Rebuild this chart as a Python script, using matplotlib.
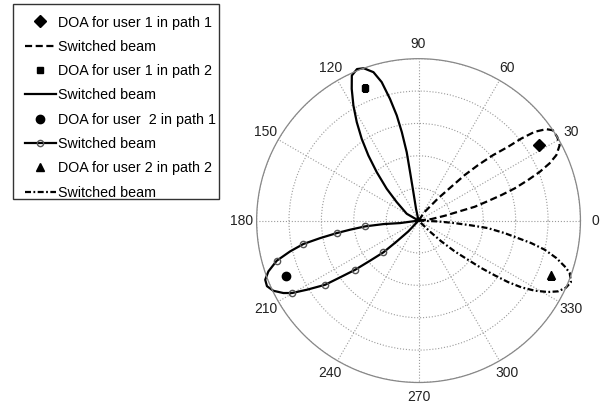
import matplotlib
matplotlib.use('Agg')
import matplotlib.pyplot as plt
import numpy as np
from matplotlib.lines import Line2D
from matplotlib.patches import Rectangle

plt.rcParams['font.family'] = ['Liberation Sans', 'DejaVu Sans']

# <----------------[DATA]----------------> #

# beam 1, dashed, user 1 path 1 (origin -> upper edge -> tip -> lower edge -> origin)
beam1_deg = [58, 54.8, 48.7, 45.9, 44.6, 43.0, 41.3, 39.5, 38.6, 37.4, 35.6, 33.9, 31.0,
             28.1, 25.4, 23.6, 21.9, 20.3, 18.5, 17.1, 15.7, 13.8, 12.6, 10.4, 6.7, 5]
beam1_gain = [0, 0.066, 0.182, 0.291, 0.40, 0.502, 0.612, 0.716, 0.812, 0.903, 0.970, 1.0, 1.0,
              0.988, 0.942, 0.883, 0.807, 0.72, 0.626, 0.535, 0.446, 0.357, 0.25, 0.164, 0.08, 0]

# beam 2, solid, user 1 path 2
beam2_deg = [102, 102, 100.3, 99.9, 99.8, 100.7, 101.7, 103.2, 104.9, 106.9, 109.8, 112.1,
             114.7, 116.9, 119.5, 122.1, 124.8, 127.6, 130.8, 135, 139.7, 150, 150]
beam2_gain = [0, 0.074, 0.179, 0.304, 0.429, 0.556, 0.663, 0.772, 0.885, 0.958, 1.0, 1.01,
              0.986, 0.912, 0.817, 0.718, 0.615, 0.508, 0.395, 0.278, 0.177, 0.084, 0]

# beam 3, solid with open circles, user 2 path 1
beam3_deg = [188, 187.7, 185.7, 186.2, 187.6, 188.7, 190.1, 191.5, 193.5, 195.8, 198.7, 201.1,
             203.4, 205.8, 208.2, 209.8, 211.8, 214.5, 215.9, 217.8, 219.6, 222.1, 223.7, 226.6, 228]
beam3_gain = [0, 0.115, 0.218, 0.332, 0.427, 0.511, 0.617, 0.726, 0.816, 0.91, 0.979, 1.015,
              1.02, 0.996, 0.947, 0.90, 0.81, 0.70, 0.598, 0.496, 0.389, 0.293, 0.186, 0.092, 0]
beam3_marks = [3, 5, 7, 9, 15, 17, 19, 21]

# beam 4, dash-dot, user 2 path 2
beam4_deg = [358, 357.5, 356, 354.8, 353.8, 351.7, 350, 348.7, 347, 344.8, 342.6, 340.9, 338,
             335.5, 333.1, 331.1, 328.9, 327, 325.5, 324.3, 322.9, 321.6, 319.6, 317.6, 316, 315]
beam4_gain = [0, 0.12, 0.224, 0.327, 0.431, 0.538, 0.624, 0.71, 0.80, 0.882, 0.946, 0.988, 1.015,
              1.0, 0.966, 0.913, 0.838, 0.757, 0.67, 0.58, 0.486, 0.39, 0.293, 0.19, 0.096, 0]

# directions of arrival
doa_deg = [32.1, 112.0, 202.6, 337.6]
doa_gain = [0.876, 0.882, 0.886, 0.887]
doa_marker = ['D', 's', 'o', '^']
doa_size = [6.5, 5, 6, 6]

theta_ticks = list(range(0, 360, 30))
labels = ['DOA for user 1 in path 1', 'Switched beam',
          'DOA for user 1 in path 2', 'Switched beam',
          'DOA for user  2 in path 1', 'Switched beam',
          'DOA for user 2 in path 2', 'Switched beam']


# <-------------------[PLOT]-------------------> #

W, H = 611, 411
fig = plt.figure(figsize=(W / 100, H / 100), dpi=100)
ax = fig.add_axes([0.420, 0.0693, 0.530, 0.788], projection='polar')

lw = 1.6
dashed = (0, (3.2, 1.6))
dashdot = (0, (2.7, 1.1, 0.8, 1.1))

ax.plot(np.radians(beam1_deg), beam1_gain, color='black', lw=lw, ls=dashed, clip_on=False)
ax.plot(np.radians(beam2_deg), beam2_gain, color='black', lw=lw, clip_on=False)
ax.plot(np.radians(beam3_deg), beam3_gain, color='black', lw=lw, clip_on=False,
        marker='o', ms=4.5, mfc='none', mec='#555555', mew=1, markevery=beam3_marks)
ax.plot(np.radians(beam4_deg), beam4_gain, color='black', lw=lw, ls=dashdot, clip_on=False)

for d, g, m, s in zip(doa_deg, doa_gain, doa_marker, doa_size):
  ax.plot(np.radians(d), g, marker=m, ms=s, color='black', ls='none')

ax.set_ylim(0, 1)
ax.set_yticks([0.2, 0.4, 0.6, 0.8, 1.0])
ax.set_yticklabels([])
ax.set_thetagrids(theta_ticks, [str(t) for t in theta_ticks])
ax.tick_params(axis='x', pad=0, labelsize=10, colors='#222222')
ax.grid(True, linestyle=':', color='#9a9a9a', lw=0.8)
ax.spines['polar'].set_color('#888888')
ax.spines['polar'].set_linewidth(0.9)

handles = [
  Line2D([], [], color='black', marker='D', ms=6.5, ls='none'),
  Line2D([], [], color='black', lw=lw, ls=dashed),
  Line2D([], [], color='black', marker='s', ms=5, ls='none'),
  Line2D([], [], color='black', lw=lw),
  Line2D([], [], color='black', marker='o', ms=6, ls='none'),
  Line2D([], [], color='black', lw=lw, marker='o', ms=4.5, mfc='none', mec='#555555', mew=1),
  Line2D([], [], color='black', marker='^', ms=6, ls='none'),
  Line2D([], [], color='black', lw=lw, ls=dashdot),
]
leg = fig.legend(handles, labels, loc='upper left', bbox_to_anchor=(25 / W, 1 - 15.5 / H),
                 fontsize=10.3, frameon=False, borderpad=0, labelspacing=0.72,
                 handlelength=2.15, handletextpad=0.15, borderaxespad=0)

# legend box drawn by hand
fig.add_artist(Rectangle((12.7 / W, 1 - 199 / H), (219 - 12.7) / W, (199 - 4) / H,
                         transform=fig.transFigure, fill=False, edgecolor='#333333', lw=1.0))

plt.savefig('out.png', dpi=100)
plt.close()
